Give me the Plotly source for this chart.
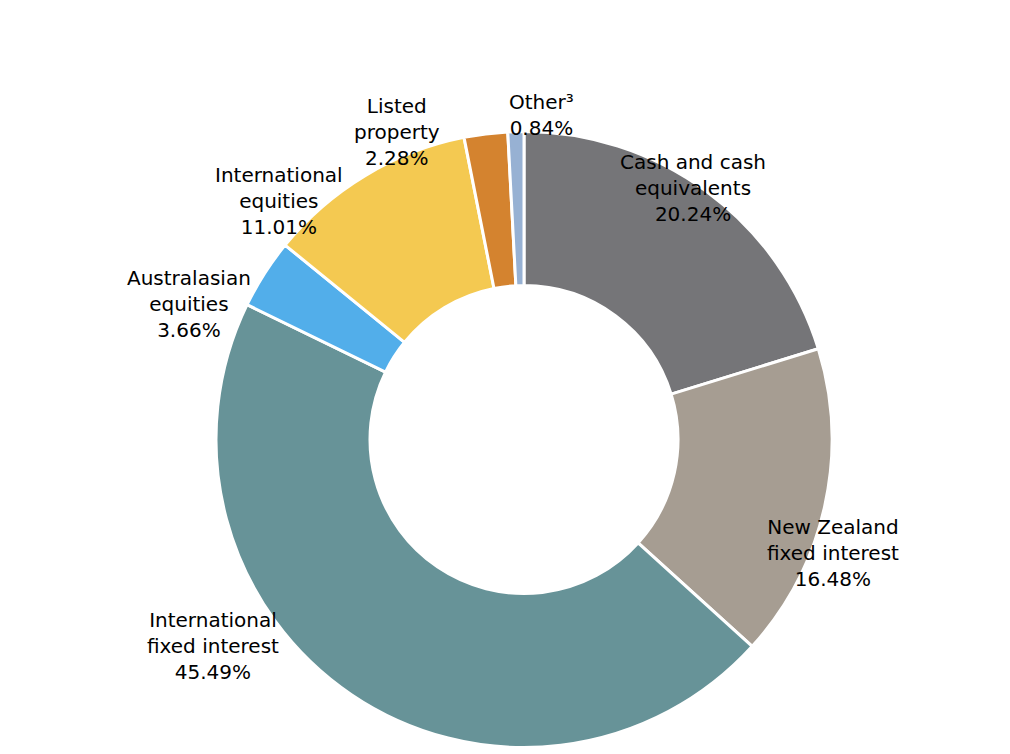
import plotly.graph_objects as go

labels = ["Cash and cash<br>equivalents", "New Zealand<br>fixed interest", "International<br>fixed interest",
          "Australasian<br>equities", "International<br>equities", "Listed<br>property", "Other³"]
values = [20.24, 16.48, 45.49, 3.66, 11.01, 2.28, 0.84]
colors = ["#757578", "#a69d92", "#679398", "#52aeea", "#f4c951", "#d4832f", "#97b1d3"]
# label centre positions (pixels from top-left)
label_px = [(760, 140), (893, 585), (137, 678), (117, 296), (205, 153), (389, 84), (533, 80)]

W, H = 1010, 754
fig = go.Figure(go.Pie(
    labels=labels, values=values, sort=False, direction="clockwise", rotation=0,
    hole=0.5, marker=dict(colors=colors, line=dict(color="white", width=3)),
    textinfo="none", domain=dict(x=[208 / W, 824 / W], y=[1 - 740 / H, 1 - 123 / H]),
    showlegend=False, hoverinfo="none"))
for l, v, (px, py) in zip(labels, values, label_px):
    fig.add_annotation(x=px / W, y=1 - py / H, xref="paper", yref="paper",
                       text=f"{l}<br>{v:.2f}%", showarrow=False,
                       font=dict(family="DejaVu Sans", size=20, color="black"))
fig.update_layout(width=W, height=H, margin=dict(l=0, r=0, t=0, b=0), paper_bgcolor="white")
fig.write_html("out.html")
